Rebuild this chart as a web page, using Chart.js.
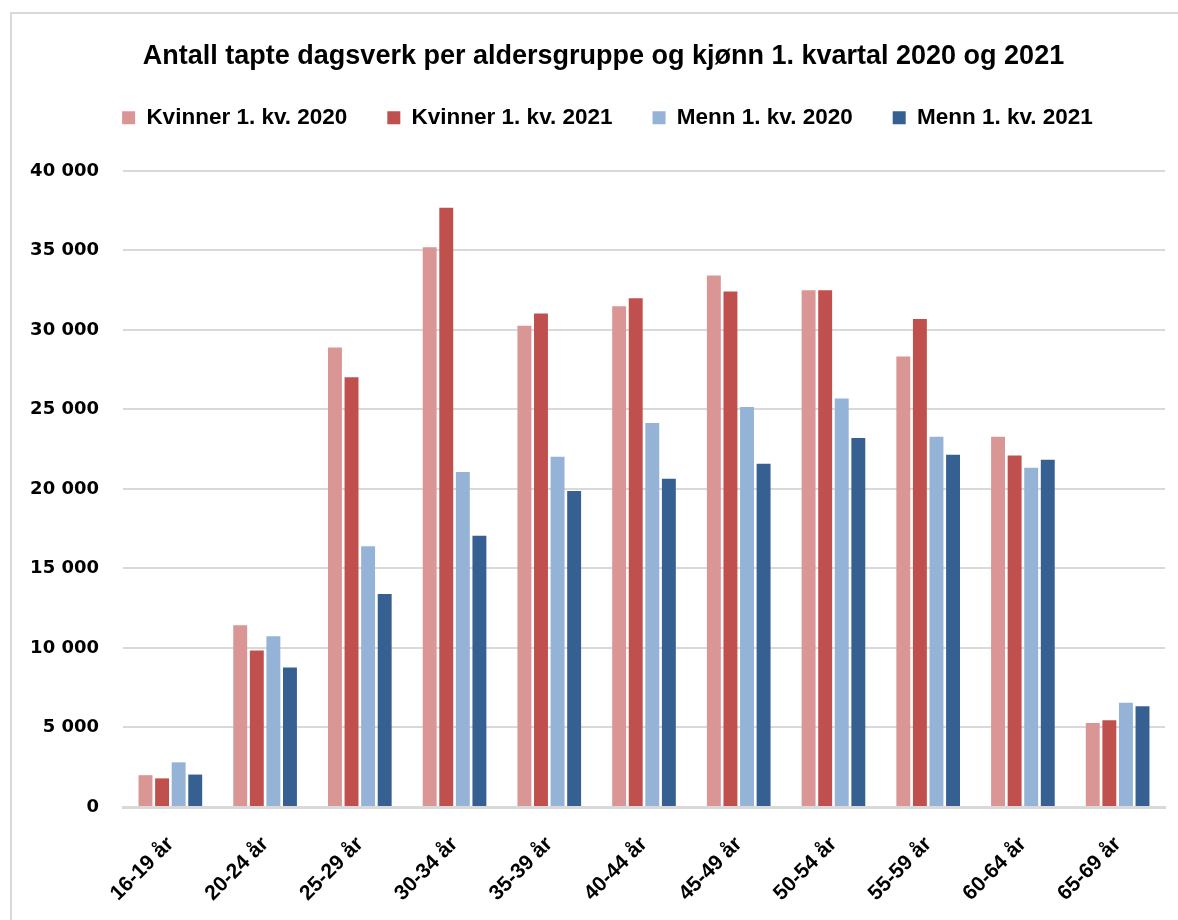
<!DOCTYPE html>
<html><head><meta charset="utf-8">
<script src="https://cdn.jsdelivr.net/npm/chart.js@4/dist/chart.umd.min.js"></script>
<style>
html,body{margin:0;padding:0;background:#fff;}
#wrap{position:absolute;left:0;top:0;width:1178px;height:920px;overflow:hidden;}
#frame{position:absolute;left:10px;top:12px;width:1200px;height:1000px;border-left:2px solid #d9d9d9;border-top:2px solid #d9d9d9;box-sizing:border-box;}
canvas{position:absolute;left:0;top:0;}
</style></head>
<body><div id="wrap"><div id="frame"></div><canvas id="c" width="1178" height="920"></canvas></div>
<script>
const categories = ["16-19 år","20-24 år","25-29 år","30-34 år","35-39 år","40-44 år","45-49 år","50-54 år","55-59 år","60-64 år","65-69 år"];
const kvinner2020 = [2000, 11430, 28890, 35200, 30270, 31490, 33420, 32490, 28330, 23290, 5280];
const kvinner2021 = [1800, 9840, 27030, 37690, 31030, 31990, 32410, 32490, 30690, 22100, 5460];
const menn2020 = [2810, 10740, 16390, 21060, 22020, 24140, 25150, 25680, 23290, 21330, 6550];
const menn2021 = [2040, 8780, 13400, 17060, 19870, 20640, 21590, 23210, 22150, 21830, 6340];
const seriesNames = ["Kvinner 1. kv. 2020","Kvinner 1. kv. 2021","Menn 1. kv. 2020","Menn 1. kv. 2021"];
const yTicks = [0,5000,10000,15000,20000,25000,30000,35000,40000];
const titleText = "Antall tapte dagsverk per aldersgruppe og kjønn 1. kvartal 2020 og 2021";

const colors = ["#D99694","#C0504D","#95B3D7","#376092"];
const sans = "'Liberation Sans',Arial,sans-serif";
const ds = [kvinner2020,kvinner2021,menn2020,menn2021].map((d,i)=>({
  label: seriesNames[i], data: d, backgroundColor: colors[i],
  borderWidth: 0, categoryPercentage: 0.7, barPercentage: 0.84
}));

const headerTweak = {
  id: 'headerTweak',
  afterInit(chart) {
    const lg = chart.legend;
    if (!lg) return;
    const orig = lg.fit;
    lg.fit = function() { orig.call(this); this.height += 32; };
  },
  afterLayout(chart) {
    const t = chart.titleBlock, lg = chart.legend;
    if (t) { t.left += 12; t.right += 12; }
    if (lg) { lg.left += 16; lg.right += 16; }
  }
};

new Chart(document.getElementById('c'), {
  type: 'bar',
  data: { labels: categories, datasets: ds },
  plugins: [headerTweak],
  options: {
    responsive: false, animation: false,
    layout: { padding: { left: 18, right: 13, top: 30, bottom: 12 } },
    plugins: {
      tooltip: { enabled: false },
      title: { display: true, text: titleText, color: '#000',
        font: { family: sans, size: 27, weight: 'bold' }, padding: { top: 10, bottom: -6 } },
      legend: { display: true, position: 'top',
        labels: { color: '#000', boxWidth: 13, boxHeight: 13, padding: 40,
          font: { family: sans, size: 22.5, weight: 'bold' } } }
    },
    scales: {
      x: {
        grid: { display: false },
        border: { display: true, color: '#d9d9d9', width: 3 },
        ticks: { color: '#000', minRotation: 45, maxRotation: 45, labelOffset: 0, padding: 17,
          font: { family: sans, size: 21, weight: 'bold' } },
        afterFit: s => { s.height = 101; }
      },
      y: {
        min: 0, max: 40000,
        afterBuildTicks: s => { s.ticks = yTicks.map(v => ({ value: v })); },
        grid: { color: '#d9d9d9', lineWidth: 2, drawTicks: false },
        border: { display: false },
        ticks: { color: '#000', padding: 24,
          font: { family: "'DejaVu Sans',Verdana,sans-serif", size: 18, weight: 'bold' },
          callback: v => v === 0 ? '0' : String(v).replace(/\B(?=(\d{3})+(?!\d))/g, ' ') },
        afterFit: s => { s.width = 105; }
      }
    }
  }
});
</script></body></html>
